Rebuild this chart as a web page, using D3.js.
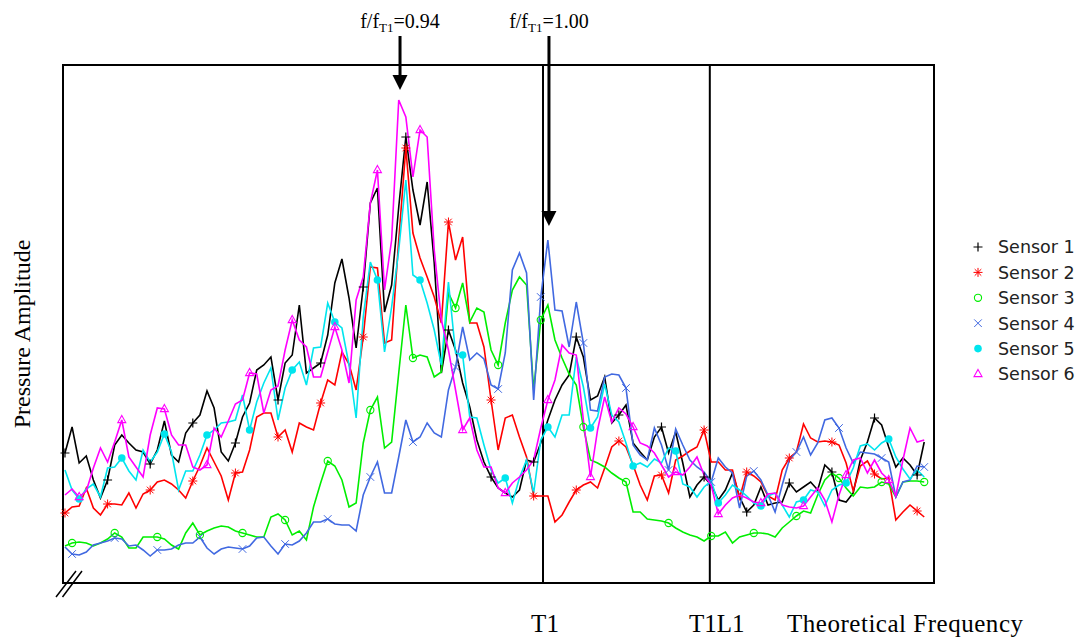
<!DOCTYPE html>
<html><head><meta charset="utf-8">
<script src="https://cdn.jsdelivr.net/npm/d3@7/dist/d3.min.js"></script>
<style>body{margin:0;background:#fff}svg{display:block}</style>
</head><body>
<svg id="chart" width="1079" height="639"></svg>
<script>
// ---------- data ----------
const seriesNames = ["Sensor 1", "Sensor 2", "Sensor 3", "Sensor 4", "Sensor 5", "Sensor 6"];
const freqStart = 0.7994;   // f/fT1 of first sample
const freqStep = 0.00298;   // spacing of samples (f/fT1)

const sensor1 = [130,156,120,127,103,85,103,138,148,140,133,131,119,133,162,128,121,150,160,168,
192,175,131,122,140,166,180,213,218,226,183,220,228,278,210,215,220,248,300,324,
285,235,296,380,395,271,298,376,446,393,358,401,320,210,253,233,200,176,143,121,
106,95,90,86,93,123,121,140,163,183,198,208,246,226,183,187,206,160,168,178,
140,131,123,146,156,130,151,120,86,98,106,98,83,93,110,86,71,78,96,78,
80,81,100,91,96,101,93,118,111,83,81,90,123,141,165,158,136,116,125,118,108,141];

const sensor2 = [70,76,77,95,75,68,79,79,78,90,75,89,93,101,103,99,93,85,102,117,
135,121,107,83,110,111,133,166,170,170,146,153,131,160,156,153,180,203,198,231,
219,193,246,316,315,240,243,343,435,350,325,306,286,260,361,323,346,260,260,236,
183,133,165,168,146,126,87,87,87,61,68,81,93,98,101,95,115,136,142,136,
118,98,83,107,108,90,123,127,132,136,153,121,121,113,113,85,111,107,101,87,
83,113,125,131,159,145,141,142,141,138,120,92,117,122,109,104,105,63,71,78,72,66];

const sensor3 = [37,40,41,40,37,40,44,50,46,35,35,46,46,46,44,38,34,50,60,48,
52,55,57,56,52,50,48,46,46,66,69,63,48,52,43,76,100,122,117,103,
76,80,140,173,186,135,141,210,278,225,228,226,206,211,290,275,300,261,275,271,
233,218,260,293,306,298,193,263,278,243,225,209,198,156,123,120,116,110,105,101,
71,71,64,63,62,60,55,51,48,46,42,47,47,51,40,46,48,50,50,49,
46,55,61,67,72,70,88,103,110,105,95,87,96,95,96,101,99,86,101,102,102,101];

const sensor4 = [36,29,28,31,38,40,42,45,44,37,38,33,27,33,33,34,38,40,40,46,
35,29,34,36,35,34,37,45,46,37,29,39,38,42,50,61,61,64,59,58,
58,52,88,106,121,90,90,126,163,141,146,160,150,146,193,216,256,223,230,224,
198,194,230,313,330,310,183,286,343,273,272,236,281,240,173,172,206,209,208,195,
138,128,123,155,138,113,154,138,123,116,111,101,125,116,110,75,107,112,103,88,
71,98,123,131,146,128,140,163,165,155,135,120,131,130,129,125,121,86,101,103,117,116];

const sensor5 = [113,93,84,94,99,86,115,116,125,112,103,133,121,131,149,131,93,112,112,128,
148,153,160,161,163,188,153,181,200,215,163,195,213,221,198,235,236,280,261,255,
218,165,266,321,303,231,276,333,403,308,303,280,253,218,301,230,228,166,165,138,
113,100,105,80,105,123,90,143,156,146,168,168,226,196,155,166,199,168,161,140,
117,120,116,124,120,135,132,99,96,86,96,102,80,88,98,93,87,80,77,87,
90,78,66,81,83,93,91,77,93,98,100,115,137,139,133,140,144,126,114,104,113,106];

const sensor6 = [88,94,86,92,115,135,121,141,163,126,116,106,148,175,174,148,138,138,116,113,
118,155,146,162,179,183,210,209,170,193,197,233,263,243,236,206,206,231,256,233,
200,283,306,380,413,293,343,483,466,406,453,446,333,263,233,193,153,165,133,116,
116,95,90,100,106,113,123,155,183,203,238,230,228,163,106,153,186,161,175,169,
156,140,137,130,118,106,111,108,116,126,108,98,69,78,85,88,85,81,80,89,
90,78,76,75,77,86,95,83,61,88,108,123,125,110,123,110,103,87,123,155,141,143];

const seriesValues = [sensor1, sensor2, sensor3, sensor4, sensor5, sensor6];
const seriesColors = ["#000000", "#ff0000", "#00ee00", "#4169e1", "#00e5ee", "#ff00ff"];
const seriesMarkers = ["plus", "asterisk", "circle", "cross", "dot", "triangle"];
const markerOffsets = [0, 0, 1, 1, 2, 2];
const markerEvery = 6;

const refLines = [{label: "T1", f: 1.000}, {label: "T1L1", f: 1.070}];
const arrowNotes = [{value: "0.94", f: 0.940, tipAmp: 493}, {value: "1.00", f: 1.0025, tipAmp: 357}];
const yLabel = "Pressure Amplitude";
const xLabel = "Theoretical Frequency";

// ---------- layout ----------
const svg = d3.select("#chart");
const L = 63, T = 65, R = 934, B = 583;
const x = d3.scaleLinear().domain([0.79857, 1.16408]).range([L, R]);
const y = d3.scaleLinear().domain([0, 518]).range([B, T]);
const freqs = d3.range(sensor1.length).map(i => freqStart + i * freqStep);

// frame
svg.append("rect").attr("x", L).attr("y", T).attr("width", R - L).attr("height", B - T)
  .attr("fill", "none").attr("stroke", "#000").attr("stroke-width", 2);

// reference vertical lines
svg.selectAll(".ref").data(refLines).enter().append("line")
  .attr("x1", d => x(d.f)).attr("x2", d => x(d.f)).attr("y1", T).attr("y2", B)
  .attr("stroke", "#000").attr("stroke-width", 2);

// series lines
const line = d3.line().x((d, i) => x(freqs[i])).y(d => y(d));
seriesValues.forEach((vals, s) => {
  svg.append("path").datum(vals).attr("d", line)
    .attr("fill", "none").attr("stroke", seriesColors[s]).attr("stroke-width", 1.6)
    .attr("stroke-linejoin", "miter");
});

// marker drawing
function drawMarker(g, type, color) {
  if (type === "plus") {
    g.append("path").attr("d", "M-4.5,0H4.5M0,-4.5V4.5").attr("stroke", color).attr("stroke-width", 1.2).attr("fill", "none");
  } else if (type === "asterisk") {
    g.append("path").attr("d", "M-4.5,0H4.5M0,-4.5V4.5M-3.3,-3.3L3.3,3.3M-3.3,3.3L3.3,-3.3").attr("stroke", color).attr("stroke-width", 1).attr("fill", "none");
  } else if (type === "circle") {
    g.append("circle").attr("r", 3.6).attr("stroke", color).attr("stroke-width", 1.1).attr("fill", "none");
  } else if (type === "cross") {
    g.append("path").attr("d", "M-3.8,-3.8L3.8,3.8M-3.8,3.8L3.8,-3.8").attr("stroke", color).attr("stroke-width", 1).attr("fill", "none");
  } else if (type === "dot") {
    g.append("circle").attr("r", 3.8).attr("fill", color);
  } else if (type === "triangle") {
    g.append("path").attr("d", "M0,-4.6L4,2.6L-4,2.6Z").attr("stroke", color).attr("stroke-width", 1.1).attr("fill", "none");
  }
}

seriesValues.forEach((vals, s) => {
  vals.forEach((v, i) => {
    if ((i - markerOffsets[s]) % markerEvery === 0 && i >= markerOffsets[s]) {
      const g = svg.append("g").attr("transform", `translate(${x(freqs[i])},${y(v)})`);
      drawMarker(g, seriesMarkers[s], seriesColors[s]);
    }
  });
});

// arrows + annotations
arrowNotes.forEach(a => {
  const ax = x(a.f), tip = y(a.tipAmp);
  svg.append("line").attr("x1", ax).attr("x2", ax).attr("y1", 36).attr("y2", tip - 12)
    .attr("stroke", "#000").attr("stroke-width", 3);
  svg.append("path").attr("d", `M${ax - 7.5},${tip - 15}L${ax + 7.5},${tip - 15}L${ax},${tip}Z`).attr("fill", "#000");
  const t = svg.append("text").attr("x", ax).attr("y", 28).attr("text-anchor", "middle")
    .attr("font-family", "Liberation Serif, Times New Roman, serif").attr("font-size", 20).attr("fill", "#000");
  t.append("tspan").text("f/f");
  t.append("tspan").attr("font-size", 13).attr("dy", 4).text("T1");
  t.append("tspan").attr("dy", -4).text("=" + a.value);
});

// bottom labels
svg.selectAll(".reflab").data(refLines).enter().append("text")
  .attr("x", d => x(d.f) + (d.label === "T1" ? 2 : 7)).attr("y", 632).attr("text-anchor", "middle")
  .attr("font-family", "Liberation Serif, Times New Roman, serif").attr("font-size", 25).text(d => d.label);
svg.append("text").attr("x", 787).attr("y", 632)
  .attr("font-family", "Liberation Serif, Times New Roman, serif").attr("font-size", 25).attr("textLength", 236).text(xLabel);

// y label
svg.append("text").attr("transform", "translate(30,334) rotate(-90)").attr("text-anchor", "middle")
  .attr("font-family", "Liberation Serif, Times New Roman, serif").attr("font-size", 24).text(yLabel);

// axis break marks
svg.append("path").attr("d", "M56,597L76,571M62.5,597L82,571").attr("stroke", "#000").attr("stroke-width", 1.5).attr("fill", "none");

// legend
const lg = svg.append("g");
seriesNames.forEach((n, s) => {
  const cy = 247 + s * 25.4;
  const g = lg.append("g").attr("transform", `translate(978,${cy})`);
  drawMarker(g, seriesMarkers[s], seriesColors[s]);
  lg.append("text").attr("x", 998).attr("y", cy).attr("dy", "0.36em")
    .attr("font-family", "DejaVu Sans, sans-serif").attr("font-size", 17.5).attr("fill", "#222").text(n);
});
</script>
</body></html>
